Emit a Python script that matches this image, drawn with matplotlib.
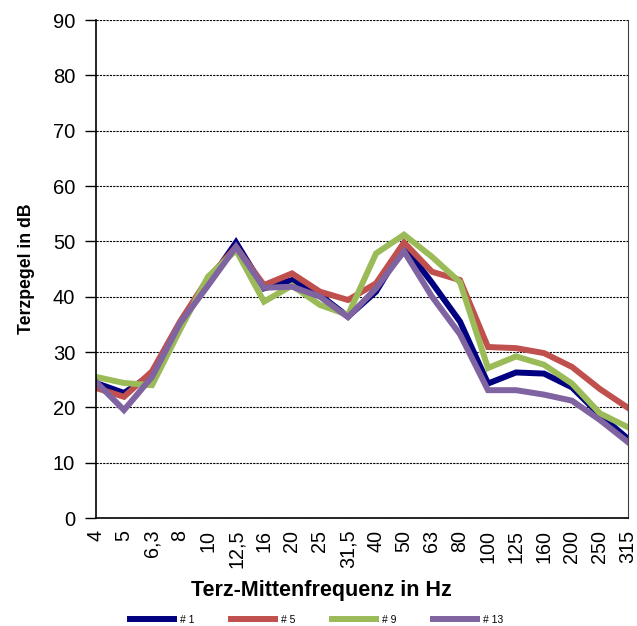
import matplotlib.pyplot as plt

plt.rcParams["font.family"] = ["Liberation Sans", "DejaVu Sans"]

freqs = ["4", "5", "6,3", "8", "10", "12,5", "16", "20", "25", "31,5",
         "40", "50", "63", "80", "100", "125", "160", "200", "250", "315"]

mp1 = [24.4, 22.6, 26.0, 35.0, 42.5, 49.8, 41.5, 43.0, 40.3, 36.4,
       40.9, 49.2, 42.5, 35.5, 24.3, 26.3, 26.1, 23.6, 18.6, 14.3]
mp5 = [23.5, 21.9, 26.5, 35.5, 43.3, 49.0, 42.1, 44.2, 40.9, 39.4,
       42.4, 49.8, 44.5, 43.0, 30.9, 30.7, 29.8, 27.3, 23.3, 19.9]
mp9 = [25.5, 24.4, 24.0, 34.0, 43.6, 48.4, 39.1, 42.0, 38.5, 36.7,
       47.8, 51.2, 47.2, 42.6, 27.1, 29.2, 27.7, 24.3, 18.9, 16.4]
mp13 = [24.6, 19.5, 25.5, 35.2, 42.0, 49.0, 41.6, 41.8, 40.0, 36.3,
        41.5, 48.2, 40.0, 33.2, 23.1, 23.1, 22.3, 21.2, 17.7, 13.7]

series = [("# 1", mp1, "#000080"), ("# 5", mp5, "#C0504D"),
          ("# 9", mp9, "#9BBB59"), ("# 13", mp13, "#8064A2")]

fig = plt.figure(figsize=(6.37, 6.26), dpi=100)
ax = fig.add_axes([96 / 637, 108 / 626, 532 / 637, 498 / 626])

x = list(range(len(freqs)))
for name, vals, col in series:
    ax.plot(x, vals, color=col, lw=4.3, label=name, solid_joinstyle="miter")

ax.set_xlim(0, len(freqs) - 1)
ax.set_ylim(0, 90)
ax.set_yticks(range(0, 91, 10))
ax.set_xticks(x)
ax.set_xticklabels(freqs, rotation=90, fontsize=14.2)
ax.set_xticks(range(0, 19, 3), minor=True)
ax.tick_params(axis="x", which="major", length=0, pad=8.5)
ax.tick_params(axis="x", which="minor", length=7, width=1, direction="out")
ax.tick_params(axis="y", labelsize=14.5, length=8, width=1, direction="out", pad=7)

ax.grid(axis="y", which="major", ls=(0, (2, 1)), color="black", lw=0.8)
ax.grid(axis="x", which="minor", ls=(0, (2, 1)), color="black", lw=0.8)
ax.set_axisbelow(True)

ax.spines["top"].set_visible(False)
ax.spines["right"].set_color("#404040")
ax.spines["left"].set_linewidth(1.2)
ax.spines["bottom"].set_linewidth(1.2)

# x title sits left of the axes centre
fig.text(321 / 637, 30 / 626, "Terz-Mittenfrequenz in Hz", ha="center",
         va="baseline", fontsize=15.5, fontweight="bold")
ax.set_ylabel("Terzpegel in dB", fontsize=12.7, fontweight="bold", labelpad=13)

fig.legend(loc="lower center", bbox_to_anchor=(0.497, -0.01), ncol=4,
           frameon=False, fontsize=7.5, handlelength=4.2, columnspacing=3.5,
           handletextpad=0.6, borderpad=0.2)

fig.savefig("out.png", dpi=100)
